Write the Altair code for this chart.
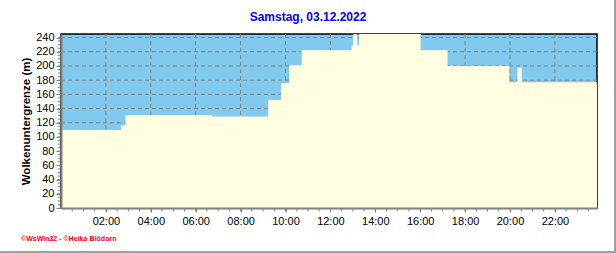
import altair as alt
import pandas as pd

# ---- data -------------------------------------------------------------
# step change points (hour of day) and cloud-base height (m); 245 = clear (above scale)
hours = [0.0, 2.67, 2.87, 6.73, 9.23, 9.80, 10.17, 10.72, 12.95, 13.02, 13.20, 13.27,
         16.02, 17.22, 19.97, 20.33, 20.52, 23.875]
cloud_base = [110, 116, 131, 129, 152, 176, 201, 222, 229, 245, 229, 245,
              222, 200, 177, 198, 177, 177]

x_major = [2, 4, 6, 8, 10, 12, 14, 16, 18, 20, 22]
x_minor = [h / 2 for h in range(1, 48)]
y_major = list(range(0, 241, 20))
y_minor = list(range(5, 245, 5))

title_text = "Samstag, 03.12.2022"
y_title = "Wolkenuntergrenze  (m)"
footer_text = "\u00a9WsWin32 - \u00a9Heiko Bl\u00f6dorn"

X_DOMAIN = [0, 23.875]
Y_DOMAIN = [0, 245]
FONT = "Liberation Sans"
GRAY = "#808080"

df = pd.DataFrame({"hour": hours, "value": cloud_base})

xscale = alt.Scale(domain=X_DOMAIN, nice=False, zero=False)
yscale = alt.Scale(domain=Y_DOMAIN, nice=False, zero=True)

# dashed grid drawn over the blue "cloud" view fill but under the yellow area
xgrid = alt.Chart(pd.DataFrame({"t": x_major})).mark_rule(
    color=GRAY, strokeWidth=1, strokeDash=[4, 3]
).encode(x=alt.X("t:Q", scale=xscale, axis=None))

ygrid = alt.Chart(pd.DataFrame({"v": y_major})).mark_rule(
    color=GRAY, strokeWidth=1, strokeDash=[4, 3]
).encode(y=alt.Y("v:Q", scale=yscale, axis=None))

area = alt.Chart(df).mark_area(
    interpolate="step-after", color="#fffde0", clip=True, opacity=1
).encode(
    x=alt.X("hour:Q", scale=xscale,
            axis=alt.Axis(values=x_major, title=None, grid=False,
                          domainColor=GRAY, domainWidth=2, tickColor=GRAY, tickSize=4,
                          labelFont=FONT, labelFontSize=11, labelColor="black",
                          labelPadding=3,
                          labelExpr="(datum.value < 10 ? '0' : '') + datum.value + ':00'",
                          zindex=1)),
    y=alt.Y("value:Q", scale=yscale,
            axis=alt.Axis(values=y_major, title=y_title, grid=False,
                          domainColor=GRAY, domainWidth=2, tickColor=GRAY, tickSize=5,
                          labelFont=FONT, labelFontSize=11, labelColor="black",
                          labelPadding=2,
                          titleFont=FONT, titleFontSize=11.5, titleFontWeight="bold",
                          titleColor="black", titleAngle=270, titleX=-31.5, titleY=87,
                          titleAlign="center", titleBaseline="alphabetic",
                          zindex=1)),
)

xminor = alt.Chart(pd.DataFrame({"t": x_minor})).mark_rule(color=GRAY, strokeWidth=1).encode(
    x=alt.X("t:Q", scale=xscale, axis=None),
    y=alt.value(175), y2=alt.value(177.5),
)

yminor = alt.Chart(pd.DataFrame({"v": y_minor})).mark_rule(color=GRAY, strokeWidth=1).encode(
    y=alt.Y("v:Q", scale=yscale, axis=None),
    x=alt.value(-3), x2=alt.value(-1),
)

title = alt.Chart(pd.DataFrame({"t": [title_text]})).mark_text(
    font=FONT, fontSize=12, fontWeight="bold", color="#0000ff",
    align="center", baseline="alphabetic"
).encode(text="t:N", x=alt.value(247), y=alt.value(-13))

footer = alt.Chart(pd.DataFrame({"t": [footer_text]})).mark_text(
    font=FONT, fontSize=7, fontWeight="bold", color="#ff0000",
    align="left", baseline="middle"
).encode(text="t:N", x=alt.value(-40), y=alt.value(204.5))

one = pd.DataFrame({"k": [0]})
border_right = alt.Chart(one).mark_rule(color="#a0a0a0", strokeWidth=2).encode(
    x=alt.value(554), x2=alt.value(554), y=alt.value(-34), y2=alt.value(219))
border_bottom = alt.Chart(one).mark_rule(color="#a0a0a0", strokeWidth=2).encode(
    x=alt.value(-61), x2=alt.value(555), y=alt.value(218), y2=alt.value(218))

chart = alt.layer(xgrid, ygrid, area, xminor, yminor, title, footer,
                  border_right, border_bottom).resolve_axis(
    x="independent", y="independent"
).properties(
    width=536, height=174,
    padding={"left": 61, "top": 34, "right": 19, "bottom": 45},
    autosize=alt.AutoSizeParams(type="none"),
    background="white",
).configure_view(
    fill="#82c9ee", stroke="black", strokeWidth=1.5
)

chart.save("out.html", embed_options={"renderer": "svg", "actions": False})
